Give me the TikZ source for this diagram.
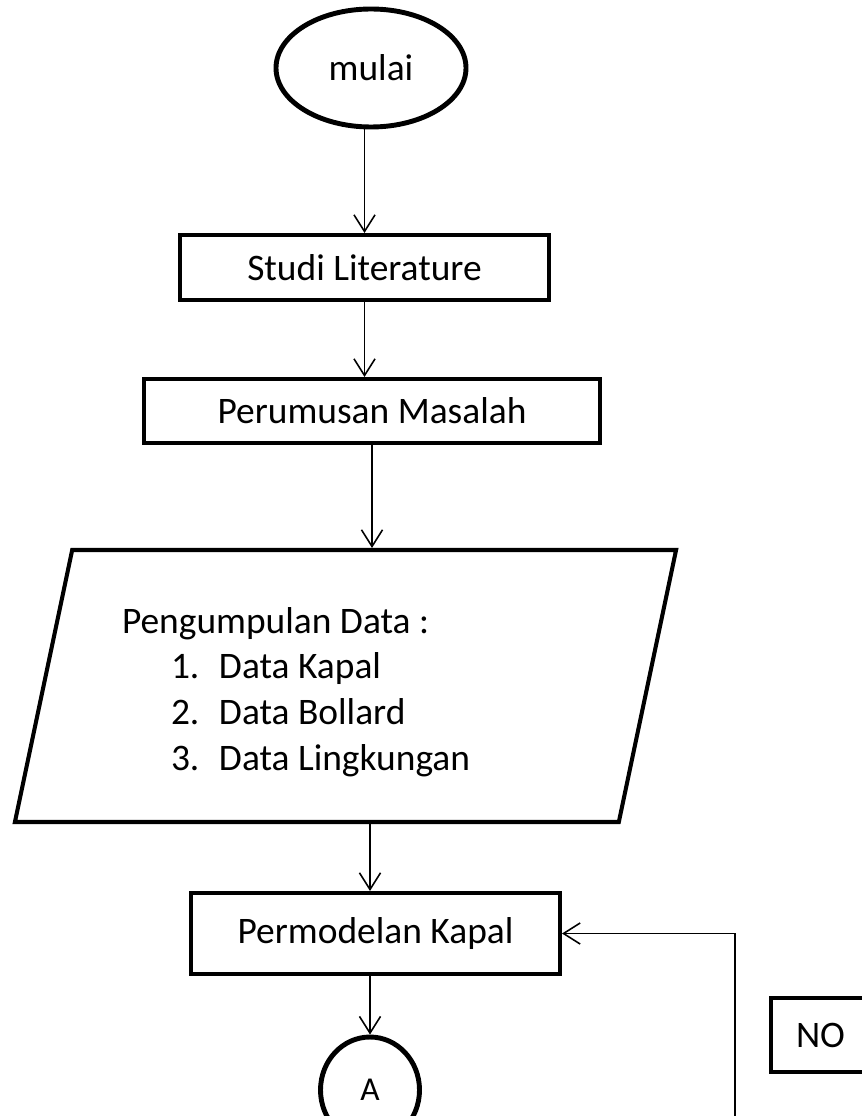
\documentclass[tikz,border=0pt]{standalone}
\usepackage{fontspec}
\setmainfont{Carlito}
\usetikzlibrary{shapes.geometric}
\usetikzlibrary{arrows.meta}

\tikzset{
  proses/.style={draw, line width=2.3pt, minimum width=7.38cm, minimum height=1.3cm, inner sep=0pt},
  terminal/.style={draw, ellipse, line width=2.8pt, inner sep=0pt},
  panah/.style={->, line width=0.9pt},
}

\begin{document}
\begin{tikzpicture}[font=\fontsize{21.3}{26}\selectfont, >={Straight Barb[length=9.5pt,width=12pt]}]
\useasboundingbox (0,0) rectangle (17.22,-22.32);
% alur utama
\node[terminal, minimum width=3.8cm, minimum height=2.36cm] (mulai) at (7.42,-1.36) {mulai};
\node[proses] (studi) at (7.29,-5.35) {Studi Literature};
\node[proses, minimum width=9.12cm, minimum height=1.28cm] (rumus) at (7.44,-8.22) {Perumusan Masalah};
\node[draw, trapezium, trapezium left angle=76, trapezium right angle=104, trapezium stretches=true,
      line width=2.3pt, minimum width=13.26cm, minimum height=5.44cm, text width=8.94cm, align=flush left]
      (data) at (6.91,-13.72)
      {\rule{0pt}{0.75cm}Pengumpulan Data :\\
       \hspace*{0.98cm}\makebox[0.96cm][l]{1.}Data Kapal\\
       \hspace*{0.98cm}\makebox[0.96cm][l]{2.}Data Bollard\\
       \hspace*{0.98cm}\makebox[0.96cm][l]{3.}Data Lingkungan};
\node[proses, minimum height=1.62cm] (model) at (7.51,-18.67) {Permodelan Kapal};
\node[terminal, minimum width=1.98cm, minimum height=2.12cm, font=\fontsize{19}{22}\selectfont] (A) at (7.40,-21.8) {A};
\node[proses, minimum width=1.98cm, minimum height=1.48cm] (no) at (16.41,-20.7) {NO};
\coordinate (balik) at (14.7,-22.6);
% panah
\draw[panah] (studi |- mulai.south) -- (studi.north);
\draw[panah] (studi.south) -- (studi.south |- rumus.north);
\draw[panah] (rumus.south) -- (rumus.south |- data.north);
\draw[panah] (A |- data.south) -- (A |- model.north);
\draw[panah] (A |- model.south) -- (A.north);
\draw[panah] (balik) |- (model.east);
\end{tikzpicture}
\end{document}
